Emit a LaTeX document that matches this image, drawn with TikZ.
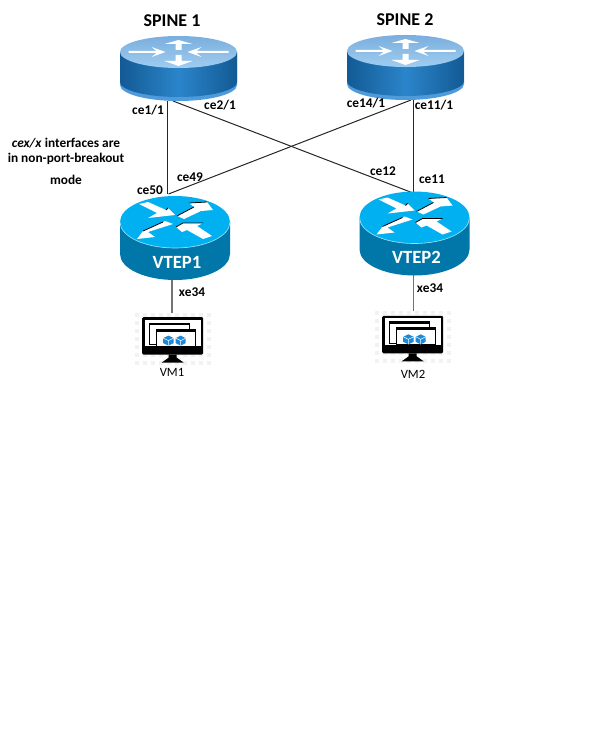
\documentclass[tikz,border=0pt]{standalone}
\usepackage{fontspec}
\setmainfont{Carlito}
\definecolor{spinetop}{HTML}{7AAEDE}
\definecolor{spinelow}{HTML}{A0CDF0}
\definecolor{spinerim}{HTML}{4E9ADB}
\definecolor{spinedark}{HTML}{125A94}
\definecolor{spinemid}{HTML}{2B85CA}
\definecolor{veptop}{HTML}{00B0F0}
\definecolor{vepside}{HTML}{0077A8}
\definecolor{cubeblue}{HTML}{1C8AD8}
\tikzset{
  link/.style={draw=black!85, line width=0.75pt},
  downlink/.style={draw=black!55, line width=1.1pt},
  port/.style={font=\bfseries\fontsize{10}{12}\selectfont, inner sep=0pt},
  title/.style={font=\bfseries\fontsize{13.5}{15}\selectfont, inner sep=0pt},
  note/.style={font=\bfseries\fontsize{10}{12}\selectfont, inner sep=0pt},
  vmlabel/.style={font=\fontsize{9.5}{11}\selectfont, inner sep=0pt},
  arrowfill/.style={fill=white, draw=none},
}
% spine router: centre of top face
\newcommand{\spinerouter}[1]{
  \begin{scope}[shift={(#1)}]
    \fill[spinerim] (-58.5,0) -- (-58.5,33) arc[start angle=180, end angle=0, x radius=58.5, y radius=16] -- (58.5,0) -- cycle;
    \shade[left color=spinedark, right color=spinedark, middle color=spinemid]
      (-58.5,0) -- (-58.5,30) arc[start angle=180, end angle=0, x radius=58.5, y radius=15] -- (58.5,0) -- cycle;
    \shade[top color=spinetop, bottom color=spinelow] (0,0) ellipse[x radius=58.5, y radius=16];
    % frecce
    \fill[arrowfill] (-50,-1) -- (-22,-1) -- (-27,-5) -- (-13,0) -- (-27,5) -- (-22,1) -- (-50,1) -- cycle;
    \fill[arrowfill] (50,-1) -- (18,-1) -- (23,-5) -- (9,0) -- (23,5) -- (18,1) -- (50,1) -- cycle;
    \fill[arrowfill] (-3,-2) -- (-3,-8) -- (-14,-8) -- (0,-12) -- (14,-8) -- (3,-8) -- (3,-2) -- cycle;
    \fill[arrowfill] (-3,3) -- (-3,9) -- (-14,9) -- (0,14) -- (14,9) -- (3,9) -- (3,3) -- cycle;
  \end{scope}
}
% vtep router: centre of top face, label
\newcommand{\vteprouter}[2]{
  \begin{scope}[shift={(#1)}]
    \fill[vepside] (-55,0) -- (-55,32) arc[start angle=180, end angle=0, x radius=55, y radius=26] -- (55,0) -- cycle;
    \fill[veptop] (0,0) ellipse[x radius=55, y radius=26];
    \draw[white!60!veptop, line width=0.5pt] (-55,0) arc[start angle=180, end angle=0, x radius=55, y radius=26];
    % frecce
    \fill[arrowfill] (-36,-18) -- (-27,-20) -- (-9,-12) -- (-7,-14) -- (0,-7) -- (-27,-4) -- (-18,-9) -- cycle;
    \fill[arrowfill] (2,-6) -- (19,-15) -- (14,-19) -- (32,-20) -- (38,-12) -- (26,-11) -- (9,-3) -- cycle;
    \fill[arrowfill] (-2,2) -- (-27,10) -- (-20,15) -- (-38,17) -- (-32,9) -- (-12,0) -- (-10,-1) -- cycle;
    \fill[arrowfill] (1,5) -- (8,1) -- (28,1) -- (22,4) -- (37,14) -- (28,17) -- (12,8) -- (7,10) -- cycle;
    \draw[black, line width=0.6pt] (-9,-12) -- (-7,-14) (14,-19) -- (32,-20) (19,-15) -- (2,-6);
    \draw[black, line width=0.6pt] (8,1) -- (28,1) (-32,9) -- (-12,0) (1,5) -- (8,1);
    \node[font=\bfseries\fontsize{14}{16}\selectfont, text=white, inner sep=0pt] at (2,40) {#2};
  \end{scope}
}
% VM icon: centre of screen
\newcommand{\vmicon}[1]{
  \begin{scope}[shift={(#1)}]
    % sfondo
    \foreach \i in {-36,-28,...,36}
      \foreach \j in {-20,-12,...,34}
        \fill[black!5] (\i-2,\j-2) rectangle (\i+2,\j+2);
    \fill[black, rounded corners=1pt] (-30.5,-17.5) rectangle (30.5,20);
    \fill[white] (-28,-15) rectangle (28,11.5);
    \fill[black] (-4,20) -- (4,20) -- (4,23) -- (11,28) -- (-11,28) -- (-4,23) -- cycle;
    \draw[black, line width=0.7pt, fill=white] (-23,-11.5) rectangle (16.5,10);
    \fill[black] (-23,-11.5) rectangle (16.5,-9.5);
    \draw[black, line width=0.7pt, fill=white] (-16.5,-5.5) rectangle (22.5,11.5);
    \fill[black] (-16.5,-5.5) rectangle (22.5,-3);
    \fill[cubeblue] (-9.5,3.5) -- (-4.3,1) -- (1,3.5) -- (1,8.5) -- (-4.3,11) -- (-9.5,8.5) -- cycle;
    \fill[cubeblue] (3,3.5) -- (8,1) -- (13,3.5) -- (13,8.5) -- (8,11) -- (3,8.5) -- cycle;
    \draw[white, line width=0.4pt] (-9.5,3.5) -- (-4.3,6) -- (1,3.5) (-4.3,6) -- (-4.3,11) (3,3.5) -- (8,6) -- (13,3.5) (8,6) -- (8,11);
  \end{scope}
}
\begin{document}
\begin{tikzpicture}[x=0.75pt, y=-0.75pt]
    \useasboundingbox (0,0) rectangle (597,756);

    % Punti di attacco
    \coordinate (spineA-ce1) at (167.5,101);
    \coordinate (spineA-ce2) at (173,101);
    \coordinate (spineB-ce14) at (411,100);
    \coordinate (spineB-ce11) at (413,100);
    \coordinate (vtepA-ce50) at (167.5,194);
    \coordinate (vtepA-ce49) at (168.5,194);
    \coordinate (vtepB-ce12) at (413,193);
    \coordinate (vtepB-ce11) at (413,193);
    \coordinate (vtepA-xe34) at (172,280);
    \coordinate (vtepB-xe34) at (413.5,275);
    \coordinate (vmA-top) at (172,313);
    \coordinate (vmB-top) at (413.5,311);

    % Collegamenti
    \draw[link] (spineA-ce1) -- (vtepA-ce50);
    \draw[link] (spineA-ce2) -- (vtepB-ce12);
    \draw[link] (spineB-ce14) -- (vtepA-ce49);
    \draw[link] (spineB-ce11) -- (vtepB-ce11);
    \draw[downlink] (vtepA-xe34) -- (vmA-top);
    \draw[downlink] (vtepB-xe34) -- (vmB-top);

    % Router
    \spinerouter{178.5,52}
    \spinerouter{405.5,51}
    \vteprouter{175,222}{VTEP1}
    \vteprouter{414.5,217.5}{VTEP2}

    % VM
    \vmicon{172.7,334.6}
    \vmicon{412.7,333.3}

    % Etichette
    \node[title] (spineA) at (172,21) {SPINE 1};
    \node[title] (spineB) at (405,20) {SPINE 2};
    \node[port] (lab-ce1) at (148,110) {ce1/1};
    \node[port] (lab-ce2) at (220,105) {ce2/1};
    \node[port] (lab-ce14) at (366,103) {ce14/1};
    \node[port] (lab-ce11) at (434,105) {ce11/1};
    \node[port] (lab-ce50) at (150,190) {ce50};
    \node[port] (lab-ce49) at (190,177) {ce49};
    \node[port] (lab-ce12) at (383,171) {ce12};
    \node[port] (lab-vce11) at (432,179) {ce11};
    \node[port] (lab-xeA) at (192,292) {xe34};
    \node[port] (lab-xeB) at (430,288) {xe34};
    \node[note] (noteA) at (66,143) {\textit{cex/x} interfaces are};
    \node[note] (noteB) at (66,159) {in non-port-breakout};
    \node[note] (noteC) at (66,180) {mode};
    \node[vmlabel] (vmA) at (172,372) {VM1};
    \node[vmlabel] (vmB) at (413,374) {VM2};
\end{tikzpicture}
\end{document}
